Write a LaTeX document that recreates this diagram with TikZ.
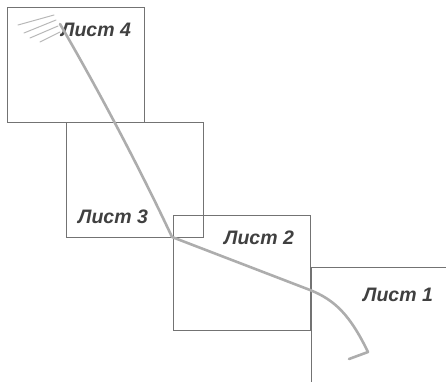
\documentclass[tikz,border=0pt]{standalone}
\usepackage{fontspec}
\setmainfont{Liberation Sans}
\usetikzlibrary{positioning,calc}

\begin{document}
\begin{tikzpicture}[
    x=1pt, y=-1pt,
    sheet/.style={
        rectangle,
        draw=black!55,
        line width=0.9pt,
        minimum width=137pt,
        minimum height=115pt,
        inner sep=0pt,
        outer sep=0pt,
        anchor=north west
    },
    label/.style={
        font=\bfseries\itshape\fontsize{19.5}{19.5}\selectfont,
        text=black!75,
        inner sep=0pt
    },
    track/.style={
        draw=black!32,
        line width=2.6pt,
        line cap=round,
        line join=round
    },
    scribble/.style={
        draw=black!28,
        line width=1pt,
        line cap=round
    }
]
\useasboundingbox (0,0) rectangle (446,381);

% Sheets
\node[sheet] (s4) at (7,7)     {};
\node[sheet] (s3) at (66,122)  {};
\node[sheet] (s2) at (173,215) {};
\node[sheet, minimum width=150pt, minimum height=130pt] (s1) at (311,267) {};

% Sheet labels
\node[label] (l4) at (96,30)   {Лист 4};
\node[label] (l3) at (113,217) {Лист 3};
\node[label] (l2) at (259,238) {Лист 2};
\node[label] (l1) at (398,295) {Лист 1};

% Scribble at the start
\draw[scribble] (18,25) -- (54,15);
\draw[scribble] (24,33) -- (56,20);
\draw[scribble] (30,38) -- (58,26);
\draw[scribble] (40,42) -- (60,32);

% The track across the sheets
\draw[track] (60,24) .. controls (110,110) and (150,190) .. (172,237)
    -- (310,290)
    .. controls (335,300) and (350,315) .. (368,352)
    -- (349,359);
\end{tikzpicture}
\end{document}
